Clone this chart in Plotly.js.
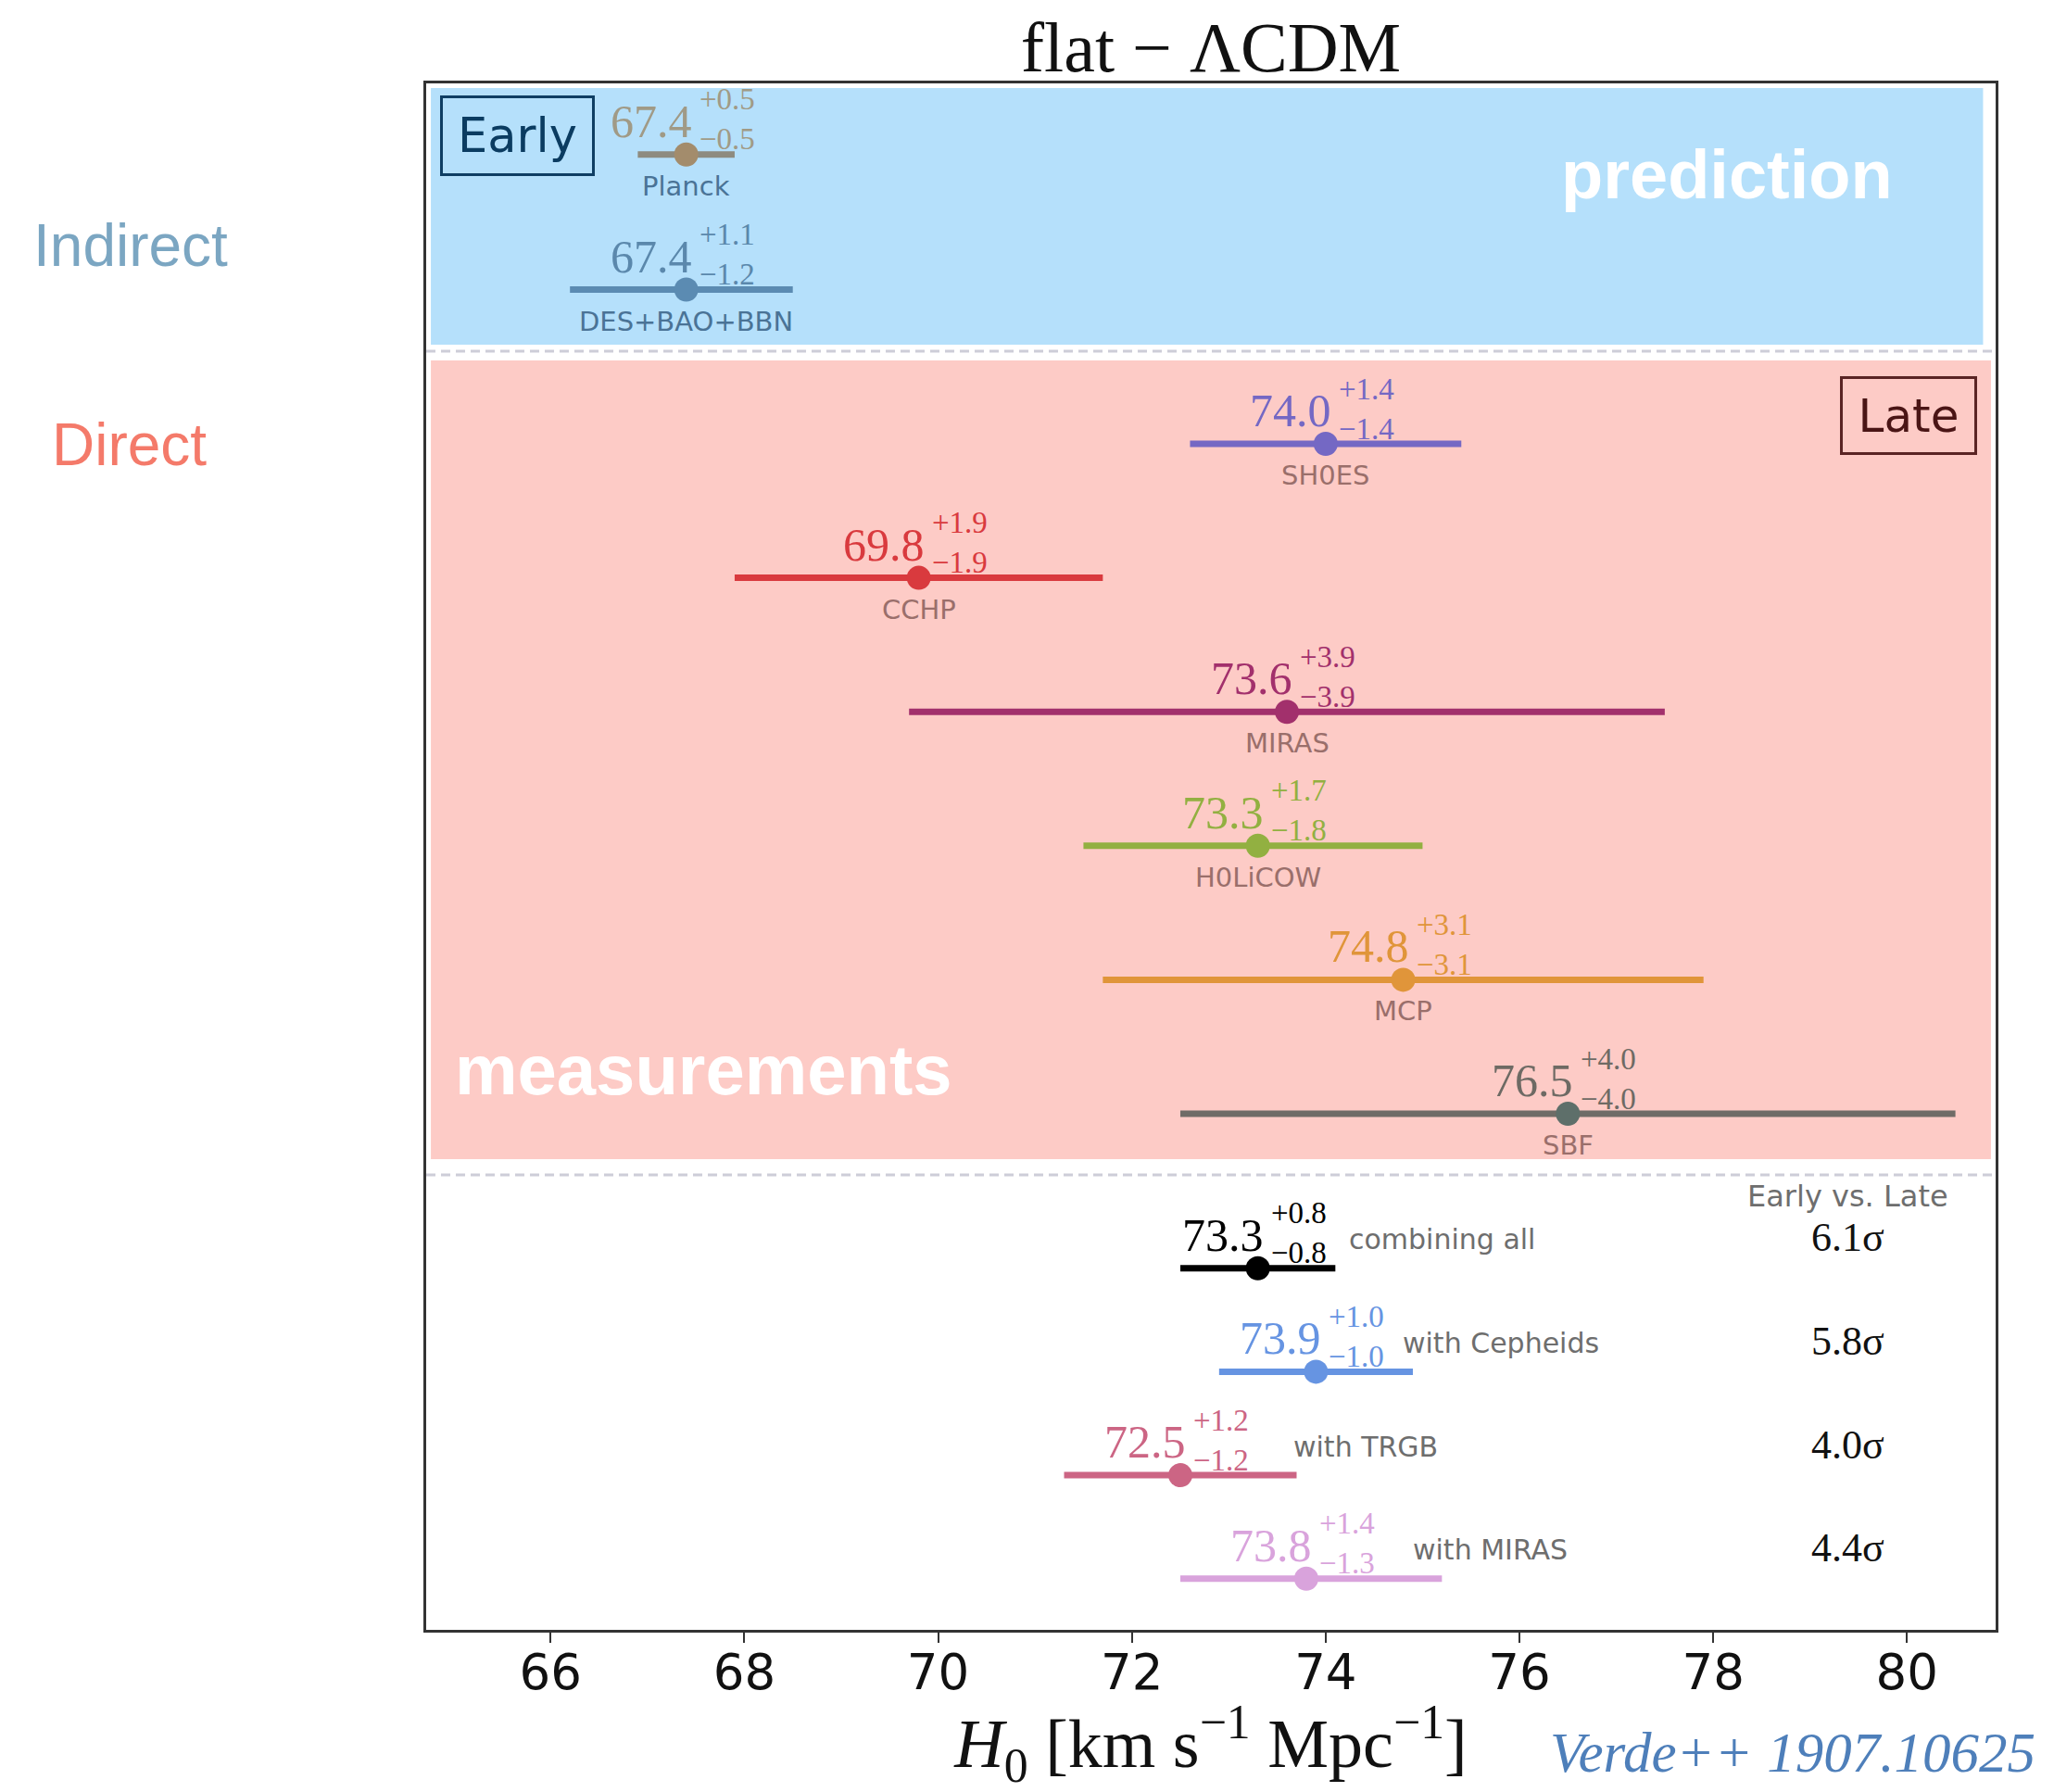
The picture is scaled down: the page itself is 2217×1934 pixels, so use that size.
<!DOCTYPE html>
<html>
<head>
<meta charset="utf-8">
<script src="https://cdn.plot.ly/plotly-3.0.1.min.js"></script>
<style>html,body{margin:0;padding:0;background:#fff;}</style>
</head>
<body>
<div id="chart" style="width:2217px;height:1934px;"></div>
<script>
// ---------- data ----------
const names = ['Planck','DES+BAO+BBN','SH0ES','CCHP','MIRAS','H0LiCOW','MCP','SBF',
               'combining all','with Cepheids','with TRGB','with MIRAS'];
const groups = ['early','early','late','late','late','late','late','late',
                'combined','combined','combined','combined'];
const h0 = [67.4,67.4,74.0,69.8,73.6,73.3,74.8,76.5,73.3,73.9,72.5,73.8];
const errPlus = [0.5,1.1,1.4,1.9,3.9,1.7,3.1,4.0,0.8,1.0,1.2,1.4];
const errMinus = [0.5,1.2,1.4,1.9,3.9,1.8,3.1,4.0,0.8,1.0,1.2,1.3];
const tensionLabels = ['6.1σ','5.8σ','4.0σ','4.4σ'];
const xTicks = [66,68,70,72,74,76,78,80];

// ---------- styles ----------
const lineColors = ['#8e8b7f','#5b8bb2','#7468c4','#d93a3e','#a2306c','#92b041','#e0953a','#6f6c67',
                    '#000000','#6694e2','#cc6584','#d9a3dc'];
const markerColors = ['#a38c6c','#5b8bb2','#7468c4','#d93a3e','#a2306c','#92b041','#e0953a','#5e6f6a',
                      '#000000','#6694e2','#cc6584','#d9a3dc'];
const textColors = ['#a09a86','#5b88ac','#7468c4','#d93a3e','#a2306c','#92b041','#e0953a','#6e6a64',
                    '#000000','#6694e2','#cc6584','#d9a3dc'];
const nameColor = {early:'#4a7396', late:'#9a6f6b', combined:'#6e6e6e'};
const comboNameShift = [96,92,120,113];

// vertical layout (axis units = page pixels)
const groupStart = {early:166.8, late:479, combined:1368.7};
const groupStep = {early:145.7, late:144.6, combined:111.7};
const counters = {early:0, late:0, combined:0};
const rowY = groups.map(g => groupStart[g] + groupStep[g] * (counters[g]++));

const serif = 'Liberation Serif, Times New Roman, serif';
const sans = 'DejaVu Sans, sans-serif';
const helv = 'Liberation Sans, Arial, sans-serif';

const traces = h0.map((v,i) => ({
  type:'scatter', mode:'markers',
  x:[v], y:[rowY[i]],
  error_x:{type:'data', symmetric:false, array:[errPlus[i]], arrayminus:[errMinus[i]],
           thickness:7, width:0, color:lineColors[i]},
  marker:{size:26, color:markerColors[i]},
  hoverinfo:'x', showlegend:false
}));

const ann = [];
h0.forEach((v,i) => {
  const y = rowY[i];
  ann.push({x:v, y:y, xref:'x', yref:'y', text:v.toFixed(1), showarrow:false,
            xanchor:'right', yanchor:'middle', xshift:8, yshift:36,
            font:{family:serif, size:50, color:textColors[i]}});
  ann.push({x:v, y:y, xref:'x', yref:'y',
            text:'+' + errPlus[i].toFixed(1) + '<br>\u2212' + errMinus[i].toFixed(1),
            showarrow:false, align:'left',
            xanchor:'left', yanchor:'middle', xshift:12, yshift:38,
            font:{family:serif, size:33, color:textColors[i]}});
  if (groups[i] === 'combined') {
    const k = i - 8;
    ann.push({x:v, y:y, xref:'x', yref:'y', text:names[i], showarrow:false,
              xanchor:'left', yanchor:'middle', xshift:comboNameShift[k], yshift:31,
              font:{family:sans, size:30, color:nameColor.combined}});
    ann.push({x:79.39, y:y, xref:'x', yref:'y', text:tensionLabels[k], showarrow:false,
              xanchor:'center', yanchor:'middle', yshift:33,
              font:{family:serif, size:44, color:'#111'}});
  } else {
    ann.push({x:v, y:y, xref:'x', yref:'y', text:names[i], showarrow:false,
              xanchor:'center', yanchor:'middle', yshift:-34,
              font:{family:sans, size:29, color:nameColor[groups[i]]}});
  }
});

// static labels
ann.push({x:79.39, y:1291, xref:'x', yref:'y', text:'Early vs. Late', showarrow:false,
          xanchor:'center', yanchor:'middle', font:{family:sans, size:32, color:'#6e6e6e'}});
ann.push({x:0.0089, y:103, xref:'paper', yref:'y', text:'Early', showarrow:false,
          xanchor:'left', yanchor:'top', width:145, height:65, borderpad:8, borderwidth:3,
          bordercolor:'#0f3e63', font:{family:sans, size:51, color:'#0b3c61'}});
ann.push({x:0.988, y:406, xref:'paper', yref:'y', text:'Late', showarrow:false,
          xanchor:'right', yanchor:'top', width:126, height:63, borderpad:8, borderwidth:3,
          bordercolor:'#5a2424', font:{family:sans, size:50, color:'#4a1515'}});
ann.push({x:0.829, y:188, xref:'paper', yref:'y', text:'<b>prediction</b>', showarrow:false,
          xanchor:'center', yanchor:'middle', font:{family:helv, size:74, color:'#ffffff'}});
ann.push({x:0.017, y:1154, xref:'paper', yref:'y', text:'<b>measurements</b>', showarrow:false,
          xanchor:'left', yanchor:'middle', font:{family:helv, size:76, color:'#ffffff'}});
ann.push({x:(34-460)/1694, y:265, xref:'paper', yref:'y', text:'Indirect', showarrow:false,
          xanchor:'left', yanchor:'middle', font:{family:helv, size:64, color:'#7ba6c2'}});
ann.push({x:(54-460)/1694, y:480, xref:'paper', yref:'y', text:'Direct', showarrow:false,
          xanchor:'left', yanchor:'middle', font:{family:helv, size:64, color:'#f47a6a'}});
ann.push({x:(1671-460)/1694, y:(1759-1892)/1669, xref:'paper', yref:'paper', text:'<i>Verde++ 1907.10625</i>',
          showarrow:false, xanchor:'left', yanchor:'middle', font:{family:serif, size:61, color:'#4e7fba'}});

const shapes = [
  {type:'rect', xref:'paper', yref:'y', x0:0.003, x1:0.992, y0:95, y1:372, fillcolor:'#b5e0fb', line:{width:0}, layer:'below'},
  {type:'rect', xref:'paper', yref:'y', x0:0.003, x1:0.997, y0:389, y1:1251, fillcolor:'#fdcbc6', line:{width:0}, layer:'below'},
  {type:'line', xref:'paper', yref:'y', x0:0, x1:1, y0:379, y1:379, line:{color:'#cdcdd8', width:3, dash:'10px,6px'}},
  {type:'line', xref:'paper', yref:'y', x0:0, x1:1, y0:1268, y1:1268, line:{color:'#cdcdd8', width:3, dash:'10px,6px'}}
];

const layout = {
  width:2217, height:1934,
  margin:{l:460, r:63, t:90, b:175, pad:0},
  paper_bgcolor:'#ffffff', plot_bgcolor:'#ffffff',
  title:{text:'flat \u2212 \u039BCDM', font:{family:serif, size:76, color:'#111'},
         xref:'paper', x:0.5, xanchor:'center', yref:'container', y:1-50/1934, yanchor:'middle'},
  xaxis:{range:[64.716,80.915], tickvals:xTicks, ticktext:xTicks.map(String),
         ticks:'outside', ticklen:11, tickwidth:2, tickcolor:'#333', ticklabelstandoff:-14,
         tickfont:{family:sans, size:53, color:'#111'},
         showgrid:false, zeroline:false, showline:true, mirror:true, linecolor:'#333', linewidth:3,
         title:{text:'<i>H</i><sub>0</sub> [km s<sup>\u22121</sup> Mpc<sup>\u22121</sup>]',
                font:{family:serif, size:74, color:'#111'}, standoff:34}},
  yaxis:{range:[1759,90], showticklabels:false, ticks:'', showgrid:false, zeroline:false,
         showline:true, mirror:true, linecolor:'#333', linewidth:3},
  shapes:shapes, annotations:ann, showlegend:false
};

Plotly.newPlot('chart', traces, layout, {displayModeBar:false, staticPlot:true});
</script>
</body>
</html>
